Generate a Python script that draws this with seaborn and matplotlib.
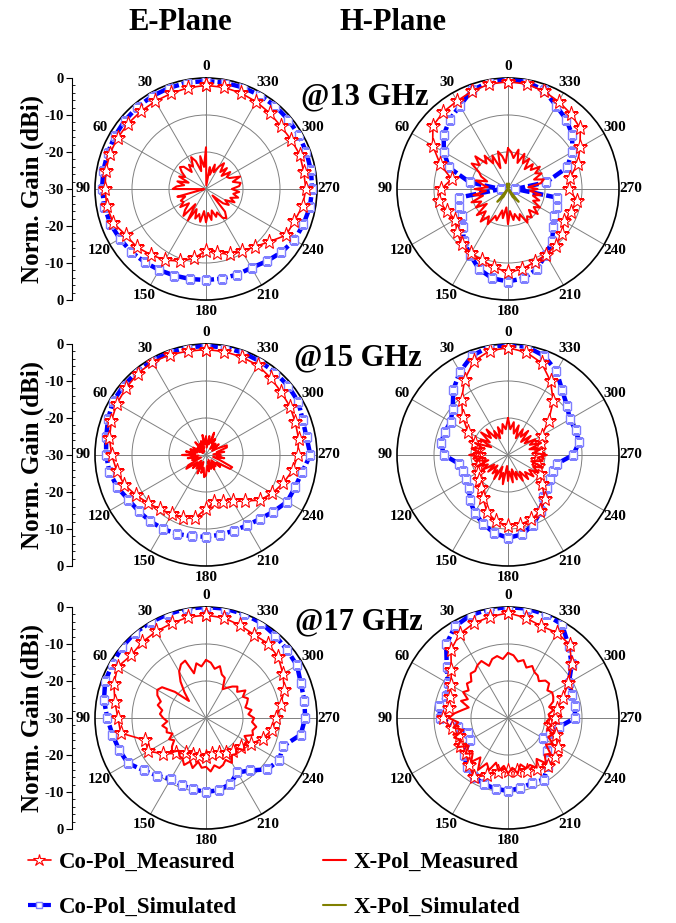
import numpy as np
import matplotlib
matplotlib.use("Agg")
import matplotlib.pyplot as plt
from matplotlib.lines import Line2D
from matplotlib.ticker import MultipleLocator
import seaborn as sns

# angle grids (deg), 0 at top, counter-clockwise
ang_co = np.arange(0, 360, 10)
ang_x = np.arange(0, 360, 5)
angle_labels = ["0", "30", "60", "90", "120", "150", "180", "210", "240", "270", "300", "330"]
lin_labels = ["0", "-10", "-20", "-30", "-20", "-10", "0"]
freqs = ["@13 GHz", "@15 GHz", "@17 GHz"]

# ---------------- 13 GHz ----------------
e13_sim = [-0.8, -0.8, -0.9, -1.0, -1.1, -1.3, -1.5, -1.7, -1.8, -1.9, -2.1, -2.5,
           -3.1, -3.6, -4.2, -4.7, -5.1, -5.3, -5.4, -5.4, -5.4, -5.4, -4.5, -3.4,
           -2.4, -2.0, -1.5, -1.3, -1.2, -1.1, -1.0, -0.9, -0.8, -0.8, -0.8, -0.8]
e13_co = [-2.0, -2.2, -2.5, -2.6, -2.6, -2.5, -2.4, -2.3, -2.5, -2.7, -2.8, -3.3,
          -5.0, -5.6, -6.8, -7.8, -9.3, -11.0, -13.3, -12.5, -11.2, -10.5, -9.6, -7.8,
          -5.0, -4.6, -3.5, -3.0, -3.2, -3.0, -3.4, -3.6, -3.2, -2.8, -2.4, -2.1]
e13_x = [-18.8, -24, -21, -25, -22, -20.5, -23, -22, -24, -21.5, -20.8, -22, -23.5, -22, -25, -22,
         -24, -22, -21, -29.5, -29, -22, -24, -22.5, -23, -21.5, -24, -22, -20.5, -25, -20.2, -24,
         -21.5, -23, -21, -24, -21, -23.5, -21.5, -24, -22, -23, -21, -20.4, -22, -27.5, -24, -22.5,
         -24, -21.5, -23, -21, -22.5, -21, -23, -21, -20.5, -22.5, -20.2, -23, -23.5, -22, -24.5, -22,
         -24, -21.5, -23, -25, -23, -26, -24, -29]
h13_sim = [-0.4, -0.6, -1.6, -4.0, -5.5, -7.3, -10.0, -13.0, -19.5, -28.0, -16.5, -16.0,
           -15.5, -14.0, -11.5, -9.5, -7.0, -5.5, -5.0, -5.5, -7.0, -9.5, -11.5, -14.0,
           -15.5, -16.0, -16.5, -28.0, -19.5, -13.0, -10.0, -7.3, -5.5, -4.0, -1.6, -0.6]
h13_co = [-1.0, -1.2, -1.8, -2.5, -2.8, -3.5, -6.5, -10.5, -14.5, -12.0, -11.0, -12.5,
          -13.5, -12.0, -10.5, -10.0, -9.5, -8.5, -7.5, -8.0, -9.0, -9.5, -10.0, -11.0,
          -12.5, -12.0, -11.0, -13.5, -13.0, -10.0, -7.5, -4.5, -3.5, -2.7, -1.8, -1.2]
h13_x = [-19, -23, -21, -19.5, -24, -20, -22, -19, -21, -17.5, -20, -18, -21, -22, -24, -21,
         -23, -24.5, -21, -24, -20.5, -23, -19.5, -22, -20, -23, -19, -21.5, -18.5, -21, -19, -22,
         -21, -24, -22, -25, -20.5, -24, -21.5, -23, -21, -22.5, -19.5, -21, -20, -22, -19.5, -21.5,
         -20, -22.5, -21, -23, -21, -24, -22, -24.5, -21, -20, -22.5, -20, -21.5, -19.5, -22, -20.5,
         -23, -20, -22, -19.5, -22.5, -19, -21.5, -20]
h13_xsim = [-30, -28.5, -29.5, -30, -30, -30, -30, -30, -30, -30, -30, -30,
            -30, -29.5, -25.5, -27.5, -30, -30, -30, -30, -30, -27.5, -25.5, -29.5,
            -30, -30, -30, -30, -30, -30, -30, -30, -30, -30, -29.5, -28.5]

# ---------------- 15 GHz ----------------
e15_sim = [-0.5, -0.5, -0.6, -0.7, -0.8, -0.9, -1.0, -1.8, -2.6, -3.0, -3.5, -4.5,
           -5.8, -6.3, -6.6, -6.9, -7.3, -7.7, -7.9, -8.1, -8.2, -8.0, -7.4, -6.2,
           -4.7, -4.4, -3.6, -1.8, -2.4, -2.2, -1.2, -1.0, -0.9, -0.8, -0.6, -0.5]
e15_co = [-1.5, -1.5, -1.2, -1.0, -1.3, -1.8, -2.2, -2.8, -3.5, -4.5, -5.5, -6.5,
          -8.2, -9.7, -10.8, -11.6, -12.0, -12.6, -15.5, -17.0, -16.6, -15.5, -13.8, -11.0,
          -9.3, -7.8, -6.2, -5.2, -4.6, -4.3, -3.8, -3.5, -2.8, -2.0, -1.8, -1.6]
e15_x = [-25, -27, -24.5, -28, -26, -29, -26.5, -28, -25.5, -28.5, -27, -29, -26, -28, -25.5, -27.5,
         -24.5, -27, -23.5, -28, -25, -27.5, -26, -28.5, -24.5, -23.5, -27, -25, -28, -25.5, -27.5, -24.5,
         -28, -25, -26.5, -24, -24.5, -27, -25.5, -28, -26, -28.5, -25.5, -27.5, -26, -28, -25, -26.5,
         -22.5, -22.2, -26, -28, -25, -27, -26, -28, -25, -27, -24, -23.8, -26.5, -28, -25.5, -27.5,
         -26, -28, -25, -26.5, -23.6, -27, -24.8, -28]
h15_sim = [-0.3, -0.3, -1.5, -4.0, -7.0, -10.5, -12.1, -11.8, -11.6, -12.7, -16.5, -17.0,
           -17.0, -16.2, -14.0, -12.0, -10.2, -8.6, -7.6, -8.2, -10.0, -12.4, -15.2, -16.3,
           -16.8, -17.0, -16.5, -12.4, -10.5, -10.5, -10.7, -9.2, -7.2, -3.8, -1.5, -0.3]
h15_co = [-1.0, -1.4, -3.0, -6.5, -10.5, -14.0, -17.5, -20.5, -21.8, -22.2, -22.0, -21.3,
          -20.5, -19.6, -18.5, -16.5, -13.5, -11.8, -10.8, -10.9, -11.5, -12.5, -14.5, -18.0,
          -20.0, -21.5, -22.0, -22.0, -21.5, -20.5, -19.5, -15.7, -11.0, -7.0, -3.5, -1.8]
h15_x = [-20, -23, -21.5, -24, -22, -25, -22.5, -24.5, -21, -23.5, -20.5, -24, -21.5, -25, -20.5, -23,
         -20, -22.5, -19.5, -23, -21, -24.5, -21, -24, -22, -25.5, -23, -26, -23.5, -25, -22.5, -26.5,
         -23, -25, -22, -27, -23, -25.5, -22.5, -26, -23, -25, -22, -24.5, -21.5, -23.5, -21, -23,
         -20.5, -22.5, -20, -23.5, -20.5, -22, -19.5, -23, -21, -24, -20.5, -23.5, -21.5, -24.5, -22, -25,
         -21.5, -24, -22, -25, -21.5, -24, -21, -23]

# ---------------- 17 GHz ----------------
e17_sim = [0.0, 0.0, -0.1, -0.1, 0.0, -0.3, -0.8, -1.0, -2.0, -3.3, -4.3, -5.0,
           -5.6, -8.0, -9.6, -11.0, -10.7, -10.4, -10.0, -10.2, -11.0, -13.0, -11.5, -8.4,
           -7.2, -7.8, -4.0, -3.2, -3.0, -2.7, -1.6, -1.4, -0.9, -0.3, -0.1, 0.0]
e17_co = [-2.2, -2.3, -2.8, -3.0, -3.2, -3.6, -2.4, -3.5, -5.0, -6.2, -6.6, -12.5,
          -12.0, -15.0, -17.5, -19.0, -19.5, -19.5, -19.5, -20.0, -20.0, -19.0, -18.5, -17.8,
          -16.0, -13.7, -11.8, -11.0, -9.5, -7.5, -6.0, -4.5, -3.8, -4.0, -3.3, -2.5]
e17_x = [-14.3, -16, -15, -17.5, -13.5, -14, -15.5, -18, -21, -23.5, -19, -15.5, -14.8, -15.5, -17, -16.5,
         -18, -17.5, -18.4, -19.5, -18, -19, -18.7, -20, -18.5, -19.5, -18, -17, -18.5, -17.5, -17.3, -16,
         -17.5, -16, -18, -16.5, -16.8, -15.5, -17, -16, -16.5, -17.5, -16, -17.8, -17.3, -18.5, -16.5, -17.5,
         -17, -18.5, -16.5, -17, -16.2, -17.5, -17, -18.5, -17.5, -19, -18.2, -17.5, -18.5, -17, -19, -18,
         -18.9, -20, -21, -18, -17.5, -15.5, -16.5, -15]
h17_sim = [0.0, -0.2, -0.4, -1.4, -4.0, -8.4, -11.2, -12.3, -11.2, -11.6, -16.2, -18.4,
           -18.0, -14.5, -12.8, -11.7, -11.0, -10.6, -10.3, -10.8, -11.2, -10.8, -13.2, -16.3,
           -19.0, -18.0, -16.0, -11.9, -11.6, -11.5, -11.0, -7.5, -4.5, -0.8, -0.2, 0.0]
h17_co = [-1.6, -2.2, -2.8, -3.8, -6.0, -10.0, -12.2, -13.2, -13.7, -12.4, -14.5, -16.0,
          -15.0, -15.2, -13.5, -11.6, -13.5, -15.2, -15.7, -15.5, -14.8, -14.2, -13.0, -13.5,
          -14.5, -16.2, -18.4, -17.3, -16.5, -14.2, -11.2, -7.5, -4.1, -3.4, -3.6, -2.5]
h17_x = [-12.4, -14, -13, -13.5, -15, -13, -13.5, -14.5, -14.3, -16, -15.5, -17, -16, -18, -16.5, -19,
         -17.5, -15.5, -14, -16.5, -15, -17.5, -14.5, -16, -14.2, -17, -15, -16.5, -14.5, -17, -13.8, -16.5,
         -15, -17.5, -15.5, -17, -15, -16.5, -14.8, -17, -15.5, -16, -14.5, -16.5, -14, -16, -15, -17.5,
         -16, -18, -17, -19, -18, -19.5, -18.6, -19, -17.5, -18.5, -17, -16.5, -16.2, -17, -15.5, -15.7,
         -17, -16, -15.7, -14.5, -15.5, -13.8, -14.5, -13]

panels = [
    ("E", 0, e13_sim, e13_co, e13_x, None),
    ("H", 0, h13_sim, h13_co, h13_x, h13_xsim),
    ("E", 1, e15_sim, e15_co, e15_x, None),
    ("H", 1, h15_sim, h15_co, h15_x, None),
    ("E", 2, e17_sim, e17_co, e17_x, None),
    ("H", 2, h17_sim, h17_co, h17_x, None),
]

RED = "#ff0000"
BLUE = "#0000ff"
SQ_EDGE = "#7f7fff"
OLIVE = "#808000"

sns.set_style("white")
plt.rcParams["font.family"] = ["Liberation Serif", "DejaVu Serif"]
plt.rcParams["font.weight"] = "bold"
plt.rcParams["text.color"] = "black"
plt.rcParams["xtick.color"] = "black"
plt.rcParams["ytick.color"] = "black"
plt.rcParams["axes.labelcolor"] = "black"
plt.rcParams["axes.edgecolor"] = "black"

W, H = 676, 923
R = 111
col_cx = {"E": 206, "H": 508}
row_cy = [189, 455, 718]

fig = plt.figure(figsize=(W / 100, H / 100), dpi=100)


def closed(ang, vals):
    return np.deg2rad(np.append(ang, 360)), np.append(vals, vals[0])


for plane, row, sim, co, xm, xs in panels:
    cx, cy = col_cx[plane], row_cy[row]
    ax = fig.add_axes([(cx - R) / W, 1 - (cy + R) / H, 2 * R / W, 2 * R / H], projection="polar")
    ax.set_theta_zero_location("N")
    ax.set_theta_direction(1)

    t, r = closed(ang_co, sim)
    sns.lineplot(x=t, y=r, ax=ax, sort=False, estimator=None, color=BLUE, lw=3.2,
                 linestyle=(0, (2.4, 0.7)), marker="s", ms=5.5, mfc="white",
                 mec=SQ_EDGE, mew=1.0, zorder=3)
    t, r = closed(ang_co, co)
    sns.lineplot(x=t, y=r, ax=ax, sort=False, estimator=None, color=RED, lw=1.2,
                 marker="*", ms=11, mfc="white", mec=RED, mew=0.8, zorder=4)
    t, r = closed(ang_x, xm)
    sns.lineplot(x=t, y=r, ax=ax, sort=False, estimator=None, color=RED, lw=1.5, zorder=5)
    if xs is not None:
        t, r = closed(ang_co, xs)
        sns.lineplot(x=t, y=r, ax=ax, sort=False, estimator=None, color=OLIVE, lw=1.5, zorder=6)

    ax.set_ylim(-30, 0)
    ax.set_yticks([-20, -10])
    ax.set_yticklabels([])
    ax.set_xticks(np.deg2rad(np.arange(0, 360, 30)))
    ax.set_xticklabels(angle_labels, fontsize=11, fontweight="bold")
    ax.tick_params(axis="x", pad=-2)
    ax.grid(True, color="#808080", lw=0.7)
    ax.spines["polar"].set_linewidth(1.2)
    ax.spines["polar"].set_color("black")
    ax.set_xlabel("")
    ax.set_ylabel("")

    if plane == "E":
        lax = fig.add_axes([72 / W, 1 - (cy + R) / H, 0.5 / W, 2 * R / H])
        for s in ["top", "right", "bottom"]:
            lax.spines[s].set_visible(False)
        lax.spines["left"].set_linewidth(0.8)
        lax.set_xticks([])
        lax.set_ylim(-30, 30)
        lax.set_yticks(np.arange(-30, 31, 10))
        lax.set_yticklabels(lin_labels, fontsize=10.5, fontweight="bold")
        lax.yaxis.set_minor_locator(MultipleLocator(2))
        lax.tick_params(axis="y", which="major", direction="out", length=4, width=0.8, pad=2, left=True)
        lax.tick_params(axis="y", which="minor", direction="in", length=2.5, width=0.6, left=True)
        lax.set_ylabel("Norm. Gain (dBi)", fontsize=18, fontweight="bold", labelpad=0)

# column titles and frequency tags
fig.text(180 / W, 1 - 23 / H, "E-Plane", ha="center", va="center", fontsize=22, fontweight="bold")
fig.text(393 / W, 1 - 23 / H, "H-Plane", ha="center", va="center", fontsize=22, fontweight="bold")
for (fx, fy), lab in zip([(365, 97), (358, 358), (359, 622)], freqs):
    fig.text(fx / W, 1 - fy / H, lab, ha="center", va="center", fontsize=22, fontweight="bold")

# legend
h_co = Line2D([], [], color=RED, lw=1.2, marker="*", ms=9, mfc="white", mec=RED, mew=0.8)
h_sim = Line2D([], [], color=BLUE, lw=3.0, linestyle=(0, (2.4, 0.7)), marker="s", ms=5,
               mfc="white", mec=SQ_EDGE)
h_xm = Line2D([], [], color=RED, lw=1.5)
h_xs = Line2D([], [], color=OLIVE, lw=1.5)
leg_kw = dict(frameon=False, loc="upper left", fontsize=16.5, handlelength=1.0,
              handletextpad=0.35, labelspacing=1.05, borderaxespad=0, borderpad=0)
fig.legend([h_co, h_sim], ["Co-Pol_Measured", "Co-Pol_Simulated"],
           bbox_to_anchor=(28 / W, 1 - 852 / H), **leg_kw)
fig.legend([h_xm, h_xs], ["X-Pol_Measured", "X-Pol_Simulated"],
           bbox_to_anchor=(323 / W, 1 - 852 / H), **leg_kw)

fig.savefig("out.png", dpi=100, facecolor="white")
